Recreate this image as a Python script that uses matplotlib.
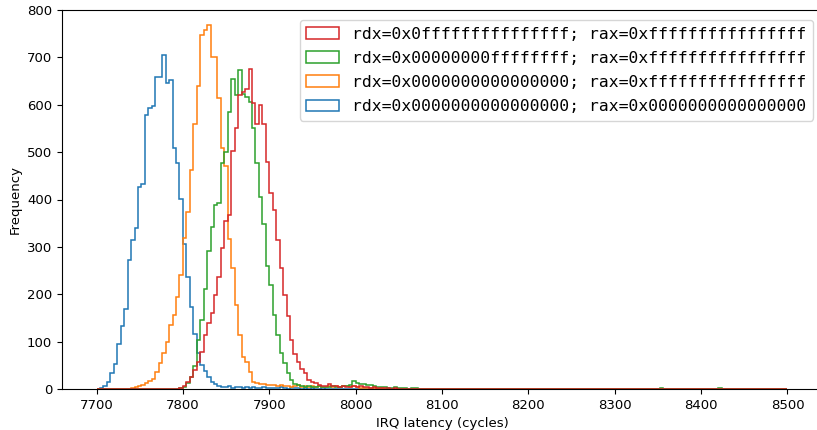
"""
IRQ latency histograms for different rdx/rax register contents
"""
import numpy as np
import matplotlib
matplotlib.use("Agg")
import matplotlib.pyplot as plt

# histogram bins: 4 cycles wide, 7700 .. 8500
bin_start = 7700
bin_width = 4
n_bins = 200

labels = ["rdx=0x0000000000000000; rax=0x0000000000000000",
          "rdx=0x0000000000000000; rax=0xffffffffffffffff",
          "rdx=0x00000000ffffffff; rax=0xffffffffffffffff",
          "rdx=0x0fffffffffffffff; rax=0xffffffffffffffff"]
colors = ["C0", "C1", "C2", "C3"]

# counts per bin, starting at bin index *_first
blue_first = 0
blue_counts = [1, 3, 6, 15, 33, 53, 95, 133, 168, 273, 314, 339, 427, 432, 578,
               594, 598, 659, 659, 705, 645, 652, 509, 477, 402, 307, 237, 174,
               117, 75, 51, 37, 26, 15, 10, 6,
               5, 4, 6, 3, 5, 4, 3, 5, 3, 4, 2, 3, 4, 3, 2, 3, 2, 4, 2, 1, 3,
               2, 2, 1, 2, 1, 2, 1, 1, 2, 1, 0, 1, 1, 0, 1, 0, 1, 0, 0, 1]
blue_outliers = [8130, 8372, 8432]

orange_first = 9
orange_counts = [1, 2, 4, 6, 9, 13, 16, 22, 35, 55, 76, 100, 135, 156, 195, 240,
                 318, 374, 462, 559, 640, 747, 758, 768, 701, 701, 615, 508, 470,
                 316, 255, 177, 114, 68, 58, 36, 15, 12,
                 10, 11, 9, 8, 9, 7, 8, 6, 7, 5, 6, 8, 5, 6, 5, 7, 5, 6, 5, 4, 6,
                 5, 7, 5, 6, 7, 5, 6, 4, 3, 3, 2, 3, 2, 1, 2, 1, 1, 0, 1]
orange_outliers = [8125, 8152, 8293]

green_first = 24
green_counts = [2, 5, 12, 25, 48, 103, 146, 212, 291, 342, 389, 393, 476, 500,
                584, 654, 620, 674, 622, 617, 605, 551, 477, 405, 349, 259, 220,
                156, 114, 75, 54, 33, 19, 11,
                8, 6, 5, 7, 5, 4, 6, 5, 4, 5, 6, 4, 5, 7, 6, 8, 17, 13, 10, 10,
                9, 8, 6, 5, 4, 5, 3, 3, 4, 2, 3, 2, 1, 2, 1, 1, 0, 1]
green_outliers = [8068, 8106, 8140, 8145, 8241, 8254, 8281, 8352, 8354,
                  8420, 8422, 8500]

red_first = 24
red_counts = [2, 6, 15, 26, 40, 58, 79, 114, 139, 160, 198, 237, 297, 355, 368,
              502, 550, 620, 627, 634, 675, 603, 560, 599, 559, 480, 414, 378,
              314, 255, 198, 155, 104, 74, 57, 43, 33, 20, 15, 12,
              9, 7, 6, 11, 7, 6, 5, 6, 4, 5, 6, 5, 6, 4, 5, 3, 4, 3, 2, 3, 2,
              1, 2, 1, 1, 0, 1]
red_outliers = [8102, 8186, 8190, 8233, 8316, 8480]

edges = bin_start + bin_width*np.arange(n_bins + 1)

def full_counts(first, counts, outliers):
  """bin counts over all bins, with the scattered single samples added"""
  c = np.zeros(n_bins)
  c[first:first + len(counts)] = counts
  c += np.histogram(outliers, bins=edges)[0]
  return c

series = [full_counts(blue_first, blue_counts, blue_outliers),
          full_counts(orange_first, orange_counts, orange_outliers),
          full_counts(green_first, green_counts, green_outliers),
          full_counts(red_first, red_counts, red_outliers)]

fig = plt.figure(figsize=(8.17, 4.3), dpi=100)
ax = fig.add_axes([62/817, 41/430, 760/817, 379/430])

for c, label, color in zip(series, labels, colors):
  ax.hist(edges[:-1], bins=edges, weights=c, histtype="step",
          color=color, linewidth=1.1, label=label)

ax.set_xlim(7660, 8540)
ax.set_ylim(0, 800)
ax.set_xticks(np.arange(7700, 8501, 100))
ax.set_yticks(np.arange(0, 801, 100))
ax.tick_params(labelsize=9.5)
ax.set_xlabel("IRQ latency (cycles)", fontsize=9.5)
ax.set_ylabel("Frequency", fontsize=9.5)
# the right edge of the frame falls outside the picture
ax.spines["right"].set_visible(False)

handles, labs = ax.get_legend_handles_labels()
ax.legend(handles[::-1], labs[::-1], loc="upper right",
          bbox_to_anchor=((813 - 62)/760, (389 - 20)/379),
          prop={"family": "DejaVu Sans Mono", "size": 11.8},
          labelspacing=0.56, borderaxespad=0.0)

fig.savefig("out.png", dpi=100)
